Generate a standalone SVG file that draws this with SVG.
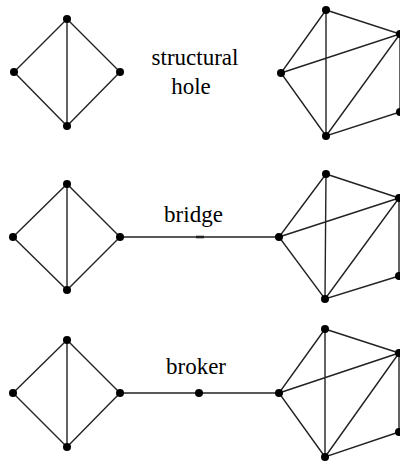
<svg xmlns="http://www.w3.org/2000/svg" width="400" height="463" viewBox="0 0 400 463">
<style>
.e{stroke:#222;stroke-width:1.4;fill:none}
.n{fill:#000}
.t{font-family:"Liberation Serif","Times New Roman",serif;font-size:23px;fill:#000;text-anchor:middle}
</style>
<rect width="400" height="463" fill="#fff"/>
<g id="connectors" class="e">
<!-- top -->
<path d="M67,19L14,72L67,126L120,72Z M67,19V126"/>
<path d="M326,10L281,73L326,136Z M326,10L400,34L281,73 M400,34L326,136L400,112 M400,34V112"/>
<!-- middle -->
<path d="M67,184L13,237L67,290L120,237Z M67,184V290 M120,237H279"/>
<path d="M326,174L279,237L325,299Z M326,174L399,198L279,237 M399,198L325,299L399,276 M399,198V276"/>
<path d="M196,237H204" stroke-width="2.6"/>
<!-- bottom -->
<path d="M67,340L13,393L67,447L120,393Z M67,340V447 M120,393H279"/>
<path d="M325,329L279,393L325,457Z M325,329L399,353L279,393 M399,353L325,457L399,432 M399,353V432"/>
</g>
<g id="top-left" class="n"><circle cx="67" cy="19" r="4"/><circle cx="14" cy="72" r="4"/><circle cx="120" cy="72" r="4"/><circle cx="67" cy="126" r="4"/></g>
<g id="top-right" class="n"><circle cx="326" cy="10" r="4"/><circle cx="281" cy="73" r="4"/><circle cx="326" cy="136" r="4"/><circle cx="400" cy="34" r="4"/><circle cx="400" cy="112" r="4"/></g>
<g id="mid-left" class="n"><circle cx="67" cy="184" r="4"/><circle cx="13" cy="237" r="4"/><circle cx="120" cy="237" r="4"/><circle cx="67" cy="290" r="4"/></g>
<g id="mid-right" class="n"><circle cx="326" cy="174" r="4"/><circle cx="279" cy="237" r="4"/><circle cx="325" cy="299" r="4"/><circle cx="399" cy="198" r="4"/><circle cx="399" cy="276" r="4"/></g>
<g id="bot-left" class="n"><circle cx="67" cy="340" r="4"/><circle cx="13" cy="393" r="4"/><circle cx="120" cy="393" r="4"/><circle cx="67" cy="447" r="4"/></g>
<g id="broker-node" class="n"><circle cx="199" cy="393" r="4"/></g>
<g id="bot-right" class="n"><circle cx="325" cy="329" r="4"/><circle cx="279" cy="393" r="4"/><circle cx="325" cy="457" r="4"/><circle cx="399" cy="353" r="4"/><circle cx="399" cy="432" r="4"/></g>
<g id="labels">
<text class="t" x="195" y="65">structural</text>
<text class="t" x="191" y="94">hole</text>
<text class="t" x="193.5" y="222">bridge</text>
<text class="t" x="196" y="374">broker</text>
</g>
</svg>
